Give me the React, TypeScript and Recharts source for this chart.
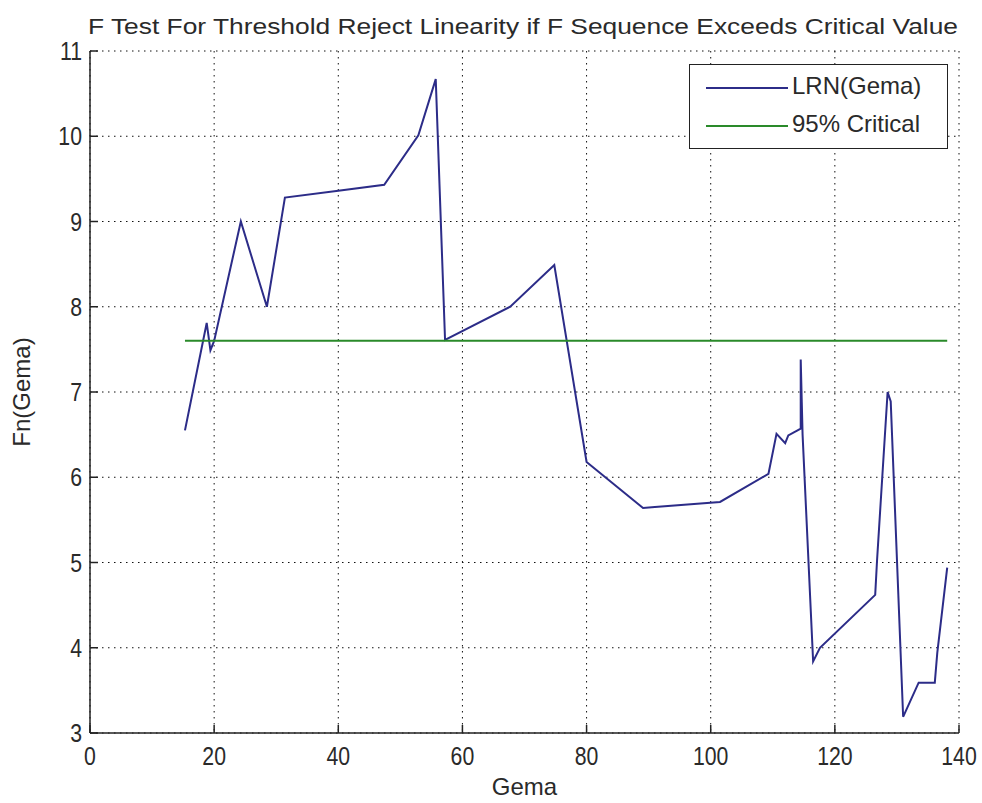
import { LineChart, Line, XAxis, YAxis, CartesianGrid } from "recharts"

const gema = [15.3, 18.8, 19.4, 20.0, 24.3, 28.5, 31.4, 40.0, 47.4, 52.9, 55.7, 57.2, 67.7, 74.8, 80.0,
  89.1, 91.0, 101.5, 109.3, 110.6, 112.0, 112.5, 114.5, 114.5, 114.8, 116.5, 117.6, 126.5, 126.8,
  128.5, 129.0, 131.0, 133.5, 136.1, 136.5, 138.1]
const lrn = [6.55, 7.81, 7.49, 7.6, 9.0, 8.0, 9.28, 9.36, 9.43, 10.01, 10.67, 7.61, 8.0, 8.49, 6.18,
  5.64, 5.65, 5.71, 6.04, 6.51, 6.4, 6.49, 6.57, 7.38, 6.5, 3.84, 4.0, 4.62, 5.03,
  7.0, 6.89, 3.19, 3.59, 3.59, 3.94, 4.94]

const criticalValue = 7.6
const criticalRange = [15.3, 138.1]

const xTicks = [0, 20, 40, 60, 80, 100, 120, 140]
const yTicks = [3, 4, 5, 6, 7, 8, 9, 10, 11]

const lrnData = gema.map((g, i) => ({ gema: g, value: lrn[i] }))
const criticalData = criticalRange.map(g => ({ gema: g, value: criticalValue }))

const FONT = "'Liberation Sans', Arial, sans-serif"
const BLUE = "#2c2c88"
const GREEN = "#2a8a2a"
const AXIS = "#222"
const TEXT = "#2a2a2a"

function BottomTick(props: any) {
  const { x, y, payload } = props
  return (
    <g>
      <line x1={x} x2={x} y1={y} y2={y - 8} stroke={AXIS} strokeWidth={1.5} />
      <text transform={`translate(${x},${y + 32}) scale(0.85,1)`} textAnchor="middle"
        fontSize={25} fill={TEXT} fontFamily={FONT}>
        {payload.value}
      </text>
    </g>
  )
}

function LeftTick(props: any) {
  const { x, y, payload } = props
  return (
    <g>
      <line x1={x} x2={x + 8} y1={y} y2={y} stroke={AXIS} strokeWidth={1.5} />
      <text transform={`translate(${x - 8},${y + 9}) scale(0.85,1)`} textAnchor="end"
        fontSize={25} fill={TEXT} fontFamily={FONT}>
        {payload.value}
      </text>
    </g>
  )
}

function TopTick(props: any) {
  const { x, y } = props
  return <line x1={x} x2={x} y1={y} y2={y + 8} stroke={AXIS} strokeWidth={1.5} />
}

function RightTick(props: any) {
  const { x, y } = props
  return <line x1={x} x2={x - 8} y1={y} y2={y} stroke={AXIS} strokeWidth={1.5} />
}

export default function App() {
  return (
    <div style={{ position: "relative", width: 982, height: 803, fontFamily: FONT, background: "#fff" }}>
      <style>{"body{margin:0}"}</style>
      <svg width={982} height={44} style={{ position: "absolute", left: 0, top: 0 }}>
        <text x={88} y={34} fontSize={22} fill={TEXT} fontFamily={FONT}
          textLength={870} lengthAdjust="spacingAndGlyphs">
          F Test For Threshold Reject Linearity if F Sequence Exceeds Critical Value
        </text>
      </svg>
      <LineChart width={982} height={803} data={lrnData}
        margin={{ top: 51, right: 23, bottom: 0, left: 0 }}>
        <CartesianGrid stroke="#111" strokeDasharray="1.5 4.5" strokeWidth={1} />
        <XAxis type="number" dataKey="gema" domain={[0, 140]} ticks={xTicks}
          height={70} tickSize={0} tickMargin={0} tickLine={false}
          axisLine={{ stroke: AXIS, strokeWidth: 1.5 }} tick={BottomTick} interval={0} />
        <XAxis xAxisId="top" orientation="top" type="number" dataKey="gema" domain={[0, 140]}
          ticks={xTicks} height={0} tickSize={0} tickMargin={0} tickLine={false}
          axisLine={{ stroke: AXIS, strokeWidth: 1.5 }} tick={TopTick} interval={0} />
        <YAxis type="number" domain={[3, 11]} ticks={yTicks} width={90}
          tickSize={0} tickMargin={0} tickLine={false}
          axisLine={{ stroke: AXIS, strokeWidth: 1.5 }} tick={LeftTick} interval={0} />
        <YAxis yAxisId="right" orientation="right" type="number" domain={[3, 11]} ticks={yTicks}
          width={0} tickSize={0} tickMargin={0} tickLine={false}
          axisLine={{ stroke: AXIS, strokeWidth: 1.5 }} tick={RightTick} interval={0} />
        <Line data={lrnData} dataKey="value" stroke={BLUE} strokeWidth={2} dot={false}
          isAnimationActive={false} />
        <Line data={criticalData} dataKey="value" stroke={GREEN} strokeWidth={2} dot={false}
          isAnimationActive={false} />
      </LineChart>
      <div style={{ position: "absolute", left: 0, width: 1049, top: 773, textAlign: "center",
        fontSize: 24, lineHeight: "28px", color: TEXT }}>
        Gema
      </div>
      <div style={{ position: "absolute", left: 22, top: 392, width: 0, height: 0 }}>
        <div style={{ transform: "translate(-50%, -50%) rotate(-90deg)", position: "absolute",
          left: 0, top: 0, whiteSpace: "nowrap", fontSize: 24, color: TEXT }}>
          Fn(Gema)
        </div>
      </div>
      <div style={{ position: "absolute", left: 689, top: 64, width: 257, height: 83,
        border: "1.5px solid #222", background: "#fff", fontSize: 24, color: TEXT }}>
        <div style={{ position: "absolute", left: 16, top: 22, width: 82, height: 2, background: BLUE }} />
        <div style={{ position: "absolute", left: 102, top: 7, whiteSpace: "nowrap" }}>LRN(Gema)</div>
        <div style={{ position: "absolute", left: 16, top: 60, width: 82, height: 2, background: GREEN }} />
        <div style={{ position: "absolute", left: 102, top: 45, whiteSpace: "nowrap" }}>95% Critical</div>
      </div>
    </div>
  )
}
